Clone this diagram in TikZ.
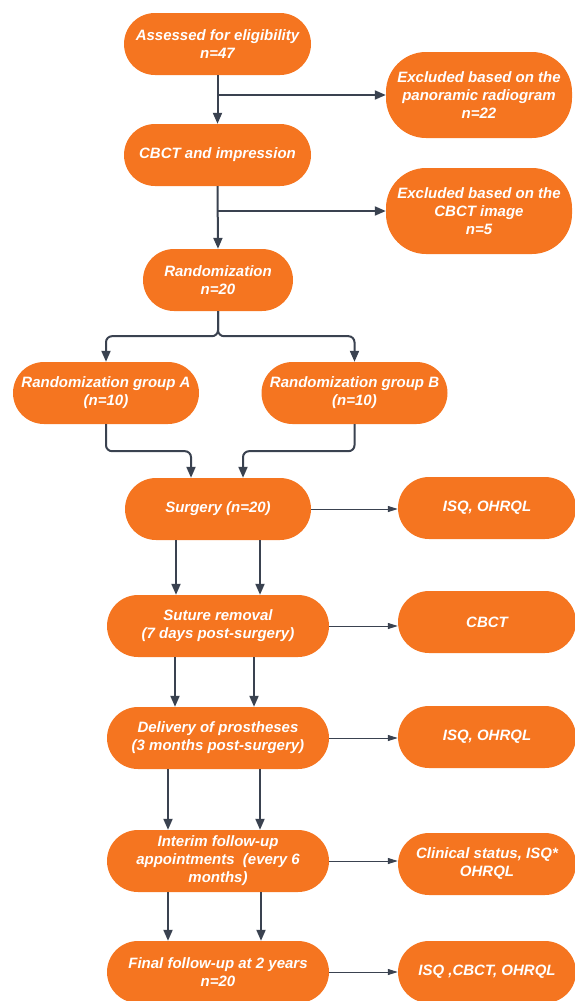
\documentclass[tikz,border=0pt]{standalone}
\usepackage{fontspec}
\setmainfont{Liberation Sans}
\usetikzlibrary{arrows.meta,calc}
\definecolor{boxor}{RGB}{245,117,32}
\definecolor{arrgray}{RGB}{58,66,80}
\begin{document}
\begin{tikzpicture}[x=1pt,y=-1pt,
  box/.style={fill=boxor, text=white, rounded corners=31pt, minimum height=62pt, inner sep=0pt, align=center, font=\fontsize{15}{18}\selectfont\bfseries\itshape},
  tall/.style={minimum height=86pt, rounded corners=40pt},
  thk/.style={draw=arrgray, line width=2pt, -{Triangle[length=11pt,width=9pt]}},
  thn/.style={draw=arrgray, line width=1pt, -{Triangle[length=10pt,width=6pt]}}
]
\useasboundingbox (0,0) rectangle (574,1001);
\node[box, minimum width=187pt] (assess) at (217.5,44) {Assessed for eligibility\\n=47};
\node[box, tall, minimum width=186pt] (ex1) at (479,95) {Excluded based on the\\panoramic radiogram\\n=22};
\node[box, minimum width=187pt] (cbct) at (217.5,155) {CBCT and impression};
\node[box, tall, minimum width=186pt] (ex2) at (479,211) {Excluded based on the\\CBCT image\\n=5};
\node[box, minimum width=150pt] (rand) at (218,280) {Randomization\\n=20};
\node[box, minimum width=186pt] (ga) at (106,393) {Randomization group A\\(n=10)};
\node[box, minimum width=186pt] (gb) at (354.5,393) {Randomization group B\\(n=10)};
\node[box, minimum width=186pt] (surg) at (218,509) {Surgery (n=20)};
\node[box, minimum width=178pt] (isq1) at (487,508) {ISQ, OHRQL};
\node[box, minimum width=222pt] (sut) at (218,626) {Suture removal\\(7 days post-surgery)};
\node[box, minimum width=178pt] (cbctr) at (487,622) {CBCT};
\node[box, minimum width=222pt] (deliv) at (218,738) {Delivery of prostheses\\(3 months post-surgery)};
\node[box, minimum width=178pt] (isq2) at (487,737) {ISQ, OHRQL};
\node[box, minimum width=222pt] (interim) at (218,861) {Interim follow-up\\appointments\ \ (every 6\\months)};
\node[box, minimum width=178pt] (clin) at (487,864) {Clinical status, ISQ*\\OHRQL};
\node[box, minimum width=222pt] (final) at (218,972) {Final follow-up at 2 years\\n=20};
\node[box, minimum width=178pt] (isq3) at (487,972) {ISQ ,CBCT, OHRQL};

\draw[thk] (assess.south) -- (cbct.north);
\draw[thk] (assess.south |- ex1.west) -- (ex1.west);
\draw[thk] (cbct.south) -- (rand.north);
\draw[thk] (cbct.south |- ex2.west) -- (ex2.west);
\draw[thk, rounded corners=6pt] (rand.south) -- ++(0,25) -| (ga.north);
\draw[thk, rounded corners=6pt] (rand.south) -- ++(0,25) -| (gb.north);
\draw[thk, rounded corners=6pt] (ga.south) -- ++(0,27) -| ([xshift=-27pt]surg.north);
\draw[thk, rounded corners=6pt] (gb.south) -- ++(0,27) -| ([xshift=25pt]surg.north);
\draw[thk] ([xshift=-42pt]surg.south) -- ([xshift=-42pt]sut.north);
\draw[thk] ([xshift=42pt]surg.south) -- ([xshift=42pt]sut.north);
\draw[thk] ([xshift=-43pt]sut.south) -- ([xshift=-43pt]deliv.north);
\draw[thk] ([xshift=36pt]sut.south) -- ([xshift=36pt]deliv.north);
\draw[thk] ([xshift=-50pt]deliv.south) -- ([xshift=-50pt]interim.north);
\draw[thk] ([xshift=42pt]deliv.south) -- ([xshift=42pt]interim.north);
\draw[thk] ([xshift=-50pt]interim.south) -- ([xshift=-50pt]final.north);
\draw[thk] ([xshift=43pt]interim.south) -- ([xshift=43pt]final.north);
\draw[thn] (surg.east) -- (surg.east -| isq1.west);
\draw[thn] (sut.east) -- (sut.east -| cbctr.west);
\draw[thn] (deliv.east) -- (deliv.east -| isq2.west);
\draw[thn] (interim.east) -- (interim.east -| clin.west);
\draw[thn] (final.east) -- (final.east -| isq3.west);
\end{tikzpicture}
\end{document}
